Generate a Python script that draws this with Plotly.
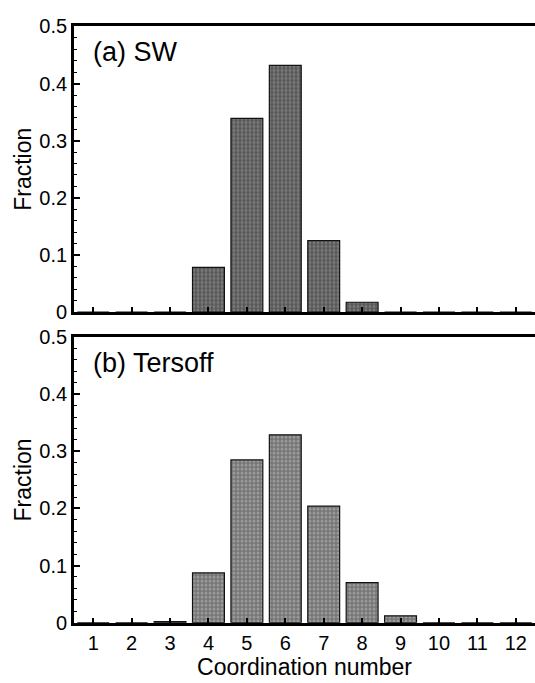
import plotly.graph_objects as go

coord = [1, 2, 3, 4, 5, 6, 7, 8, 9, 10, 11, 12]
sw_frac = [0, 0, 0, 0.078, 0.339, 0.432, 0.125, 0.017, 0, 0, 0, 0]
tersoff_frac = [0, 0, 0.002, 0.087, 0.285, 0.329, 0.204, 0.070, 0.012, 0, 0, 0]
ytick_vals = [0, 0.1, 0.2, 0.3, 0.4, 0.5]
ytick_text = ["0", "0.1", "0.2", "0.3", "0.4", "0.5"]
xtick_text = [str(c) for c in coord]

W, H = 535, 683
FONT = "Liberation Sans, Arial, Helvetica, sans-serif"

fig = go.Figure()
fig.add_trace(go.Bar(
    x=coord, y=sw_frac, xaxis="x", yaxis="y",
    marker=dict(color="#5a5a5a", line=dict(color="#111", width=1.2),
                pattern=dict(shape="+", fgcolor="#222222", bgcolor="#7c7c7c", size=4, solidity=0.5)),
    showlegend=False))
fig.add_trace(go.Bar(
    x=coord, y=tersoff_frac, xaxis="x2", yaxis="y2",
    marker=dict(color="#808080", line=dict(color="#111", width=1.2),
                pattern=dict(shape="+", fgcolor="#333333", bgcolor="#9c9c9c", size=4, solidity=0.45)),
    showlegend=False))

xd = [74 / W, 1.0]
top_dom = [1 - 311 / H, 1 - 16 / H]
bot_dom = [1 - 632 / H, 1 - 337 / H]

xcommon = dict(range=[0.5, 12.5], tickvals=coord, ticks="inside", ticklen=5, tickwidth=1.5,
               tickcolor="black", showline=True, linecolor="black", linewidth=2.8, mirror=True,
               showgrid=False, zeroline=False, domain=xd)
ycommon = dict(range=[0, 0.5], tickvals=ytick_vals, ticktext=ytick_text, ticks="inside", ticklen=6,
               tickwidth=1.5, tickcolor="black", showline=True, linecolor="black", linewidth=2.8,
               showgrid=False, zeroline=False, tickfont=dict(size=20, family=FONT, color="black"),
               minor=dict(dtick=0.02, tick0=0, ticks="inside", ticklen=3, tickwidth=1.2, tickcolor="black"),
               title=dict(text="Fraction", font=dict(size=23, family=FONT, color="black"), standoff=2))

fig.update_layout(
    width=W, height=H, margin=dict(l=0, r=0, t=0, b=0),
    paper_bgcolor="white", plot_bgcolor="white", bargap=0.17,
    font=dict(family=FONT, color="black"),
    xaxis=dict(**xcommon, anchor="y", showticklabels=False),
    yaxis=dict(**ycommon, domain=top_dom, anchor="x"),
    xaxis2=dict(**xcommon, anchor="y2", ticktext=xtick_text,
                tickfont=dict(size=20, family=FONT, color="black"),
                title=dict(text="Coordination number", font=dict(size=23, family=FONT, color="black"), standoff=0)),
    yaxis2=dict(**ycommon, domain=bot_dom, anchor="x2"),
    annotations=[
        dict(text="(a) SW", xref="x", yref="y", x=0.93, y=0.455, xanchor="left", yanchor="middle",
             showarrow=False, font=dict(size=27, family=FONT, color="black")),
        dict(text="(b) Tersoff", xref="x2", yref="y2", x=0.93, y=0.455, xanchor="left", yanchor="middle",
             showarrow=False, font=dict(size=27, family=FONT, color="black")),
    ],
)

fig.write_html("out.html")
